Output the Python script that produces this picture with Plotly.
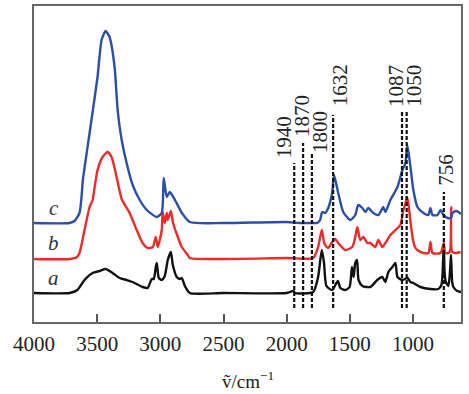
import plotly.graph_objects as go

# ---- data (wavenumber cm^-1, offset intensity in arbitrary units) ----
wn_c = [4000, 3719, 3680, 3640, 3626, 3613, 3560, 3497, 3465, 3433, 3402, 3362, 3338, 3306, 3267,
        3219, 3163, 3107, 3029, 2989, 2973, 2949, 2925, 2884, 2829, 2767, 2500, 2000, 1894, 1790,
        1759, 1735, 1719, 1695, 1671, 1640, 1625, 1592, 1552, 1496, 1457, 1433, 1401, 1377, 1354,
        1314, 1274, 1235, 1219, 1179, 1123, 1084, 1060, 1045, 1020, 997, 965, 917, 878, 862, 846,
        806, 782, 758, 726, 700, 687, 660, 640, 620]
ab_c = [99, 99, 101, 109, 122, 142, 189, 245, 282, 291, 285, 255, 212, 182, 159,
        137, 122, 112, 105, 109, 144, 125, 130, 122, 109, 100, 99, 100, 99, 99,
        99, 102, 110, 109, 114, 129, 147, 129, 110, 102, 107, 117, 114, 110, 114,
        109, 107, 115, 110, 122, 135, 152, 159, 177, 155, 132, 115, 109, 107, 114, 107,
        107, 112, 107, 104, 104, 109, 111, 110, 108]

wn_b = [4000, 3719, 3660, 3640, 3600, 3560, 3536, 3520, 3497, 3457, 3417, 3386, 3346, 3306, 3243,
        3187, 3140, 3100, 3060, 3036, 3020, 2989, 2981, 2965, 2949, 2941, 2917, 2901, 2870, 2830,
        2782, 2767, 2500, 2000, 1790, 1751, 1722, 1700, 1671, 1640, 1616, 1592, 1536, 1481, 1457,
        1441, 1417, 1393, 1361, 1338, 1298, 1274, 1243, 1219, 1179, 1139, 1100, 1076, 1060, 1048,
        1036, 1020, 1004, 985, 965, 917, 878, 862, 846, 782, 756, 745, 718, 705, 698, 690, 663, 623]
ab_b = [63, 63, 65, 69, 92, 115, 122, 135, 152, 165, 170, 165, 145, 123, 109,
        92, 79, 74, 75, 85, 75, 92, 110, 99, 109, 102, 111, 100, 88, 75,
        67, 64, 63, 64, 64, 75, 92, 78, 74, 80, 83, 79, 72, 75, 85,
        95, 82, 85, 79, 79, 75, 82, 75, 79, 87, 92, 97, 112, 118, 125,
        118, 100, 85, 75, 72, 69, 69, 80, 69, 69, 79, 69, 69, 72, 115, 70, 69, 70]

wn_a = [4000, 3719, 3656, 3600, 3536, 3481, 3433, 3378, 3322, 3267, 3219, 3140, 3100, 3068, 3052,
        3036, 3028, 3012, 2989, 2965, 2941, 2917, 2901, 2870, 2846, 2830, 2806, 2767, 2500, 2000,
        1945, 1935, 1790, 1751, 1722, 1705, 1685, 1640, 1595, 1575, 1536, 1502, 1483, 1470, 1457,
        1443, 1431, 1400, 1338, 1283, 1243, 1219, 1195, 1163, 1139, 1123, 1084, 1044, 1020, 997,
        941, 862, 800, 775, 762, 756, 750, 740, 720, 705, 699, 690, 680, 650, 620]
ab_a = [29, 29, 32, 42, 49, 51, 53, 49, 44, 42, 40, 35, 34, 43, 43,
        55, 59, 44, 42, 46, 62, 70, 57, 45, 43, 44, 36, 29, 29, 29,
        31, 29, 30, 45, 72, 60, 36, 32, 41, 34, 32, 35, 55, 45, 59,
        62, 42, 36, 35, 42, 45, 40, 50, 55, 59, 45, 42, 44, 40, 39,
        35, 33, 33, 37, 60, 77, 50, 40, 36, 55, 67, 40, 35, 31, 30]

curve_names = ["a", "b", "c"]
curve_label_y = [44, 79, 114]

peak_wn = [1940, 1870, 1800, 1632, 1087, 1050, 756]
peak_text = ["1940", "1870", "1800", "1632", "1087", "1050", "756"]
peak_line_top = [159, 179, 170, 207, 212, 212, 130]
peak_label_y = [185, 206, 190, 237, 236, 236, 152]
peak_label_dx = [-10, -1, 8, 7, -6, 7, 2]

x_ticks = [4000, 3500, 3000, 2500, 2000, 1500, 1000]
x_title = "ṽ/cm<sup>−1</sup>"

# ---- figure ----
fig = go.Figure()
colors = {"a": "#111111", "b": "#ee2a2a", "c": "#2b4ea6"}
for wn, ab, name in [(wn_a, ab_a, "a"), (wn_b, ab_b, "b"), (wn_c, ab_c, "c")]:
    fig.add_trace(go.Scatter(x=wn, y=ab, mode="lines", name=name,
                             line=dict(color=colors[name], width=2.4, shape="spline", smoothing=0.6),
                             showlegend=False, hoverinfo="skip"))

serif = "Liberation Serif"
for name, yv in zip(curve_names, curve_label_y):
    fig.add_annotation(x=3845, y=yv, text=f"<i>{name}</i>", showarrow=False,
                       font=dict(family=serif, size=21, color="#333333"),
                       xanchor="center", yanchor="middle")

for wn, top, txt, ly, dx in zip(peak_wn, peak_line_top, peak_text, peak_label_y, peak_label_dx):
    fig.add_shape(type="line", x0=wn, x1=wn, y0=14, y1=top, xref="x", yref="y",
                  line=dict(color="#111111", width=2.2, dash="4px,2px"))
    fig.add_annotation(x=wn, y=ly, text=txt, showarrow=False, textangle=-90, xshift=dx,
                       font=dict(family=serif, size=21, color="#222222"),
                       xanchor="center", yanchor="middle")

fig.add_annotation(x=0.5, y=-0.1835, xref="paper", yref="paper", text=x_title, showarrow=False,
                   font=dict(family=serif, size=19, color="#222222"),
                   xanchor="center", yanchor="middle")

fig.update_layout(
    width=469, height=394,
    margin=dict(l=34, r=8, t=6, b=72, autoexpand=False),
    plot_bgcolor="white", paper_bgcolor="white",
    xaxis=dict(range=[4000, 620], tickvals=x_ticks, ticktext=[str(v) for v in x_ticks],
               ticks="inside", ticklen=8, tickwidth=1.5, tickcolor="#555555",
               showline=True, linecolor="#666666", linewidth=1.5, mirror=True,
               showgrid=False, zeroline=False, ticklabelstandoff=2, automargin=False,
               tickfont=dict(family=serif, size=21, color="#222222")),
    yaxis=dict(range=[0, 316], showticklabels=False, ticks="", showgrid=False, zeroline=False,
               automargin=False,
               showline=True, linecolor="#666666", linewidth=1.5, mirror=True),
)

fig.write_html("out.html", config={"displayModeBar": False},
               post_script="document.body.style.margin='0';document.body.style.overflow='hidden';")
